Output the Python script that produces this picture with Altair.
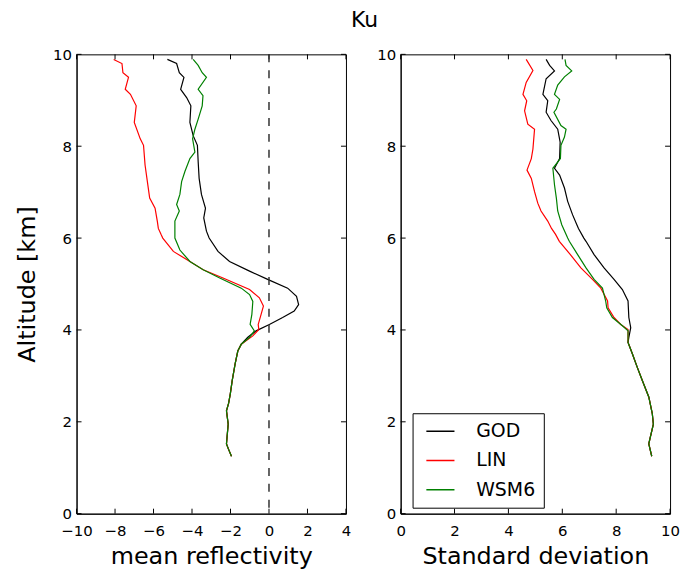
import altair as alt
import pandas as pd

# ---------------- data ----------------
models = ["GOD", "LIN", "WSM6"]
colors = ["black", "red", "green"]

# mean reflectivity profiles (altitude km, value)
god_mean_alt = [9.89, 9.80, 9.60, 9.50, 9.24, 9.06, 8.88, 8.52, 8.23, 8.02, 7.66, 7.30, 6.95, 6.65, 6.44,
                6.15, 6.00, 5.71, 5.49, 5.28, 5.10, 4.91, 4.73, 4.55, 4.41, 4.27, 4.12, 3.98, 3.84, 3.69]
god_mean_val = [-5.28, -4.80, -4.66, -4.42, -4.59, -4.28, -4.06, -4.11, -3.94, -3.72, -3.68, -3.63, -3.51, -3.30, -3.39,
                -3.25, -3.11, -2.65, -2.05, -1.01, -0.07, 0.97, 1.43, 1.54, 1.31, 0.71, 0.02, -0.67, -1.10, -1.44]

lin_mean_alt = [9.89, 9.80, 9.60, 9.50, 9.24, 9.13, 8.88, 8.52, 8.16, 8.02, 7.59, 7.23, 6.87, 6.65, 6.36,
                6.21, 6.07, 6.00, 5.71, 5.49, 5.31, 5.13, 4.88, 4.70, 4.52, 4.34, 4.12, 4.01, 3.87, 3.69]
lin_mean_val = [-8.07, -7.64, -7.59, -7.30, -7.47, -7.20, -6.90, -7.00, -6.69, -6.52, -6.44, -6.32, -6.20, -5.92, -5.80,
                -5.75, -5.60, -5.52, -4.97, -4.11, -3.42, -2.39, -1.01, -0.50, -0.29, -0.41, -0.56, -0.53, -0.84, -1.44]

wsm_mean_alt = [9.89, 9.76, 9.60, 9.50, 9.24, 9.10, 8.88, 8.59, 8.37, 8.16, 7.87, 7.73, 7.45, 7.23, 6.95,
                6.73, 6.59, 6.37, 6.07, 6.00, 5.74, 5.49, 5.31, 5.13, 4.91, 4.77, 4.62, 4.34, 4.12, 3.98,
                3.84, 3.69]
wsm_mean_val = [-3.94, -3.68, -3.47, -3.25, -3.68, -3.43, -3.47, -3.68, -3.85, -3.97, -3.85, -4.11, -4.37, -4.54, -4.63,
                -4.80, -4.66, -4.89, -4.89, -4.89, -4.63, -4.11, -3.42, -2.56, -1.44, -1.01, -0.84, -0.89, -0.98, -0.76,
                -1.01, -1.44]

# common lower part of the mean profiles
tail_mean_alt = [3.54, 3.26, 2.90, 2.61, 2.40, 2.24, 1.95, 1.52, 1.40, 1.25]
tail_mean_val = [-1.62, -1.76, -1.91, -2.01, -2.10, -2.21, -2.12, -2.21, -2.10, -1.95]

# standard deviation profiles
god_std_alt = [9.89, 9.76, 9.64, 9.47, 9.13, 8.99, 8.74, 8.56, 8.37, 8.09, 7.73, 7.52, 7.37, 7.09, 6.80,
               6.51, 6.29, 6.21, 6.00, 5.93, 5.64, 5.35, 5.10, 4.88, 4.63, 4.27, 4.05, 3.84]
god_std_val = [5.40, 5.53, 5.71, 5.40, 5.28, 5.46, 5.40, 5.58, 5.83, 5.92, 5.90, 5.71, 5.90, 6.08, 6.20,
               6.38, 6.54, 6.60, 6.80, 6.88, 7.18, 7.55, 7.92, 8.23, 8.44, 8.47, 8.54, 8.47]

lin_std_alt = [9.89, 9.65, 9.39, 9.13, 8.99, 8.77, 8.48, 8.37, 7.94, 7.73, 7.48, 7.30, 7.01, 6.76, 6.59,
               6.37, 6.21, 6.08, 5.93, 5.64, 5.35, 5.10, 4.91, 4.63, 4.48, 4.27, 4.12, 4.01]
lin_std_val = [4.66, 4.91, 4.66, 4.54, 4.68, 4.60, 4.72, 4.97, 4.91, 4.85, 4.69, 4.85, 4.97, 5.09, 5.21,
               5.46, 5.60, 5.75, 5.89, 6.30, 6.69, 7.12, 7.43, 7.68, 7.70, 7.92, 8.17, 8.44]

wsm_std_alt = [9.89, 9.76, 9.64, 9.51, 9.33, 9.13, 9.02, 8.81, 8.74, 8.45, 8.37, 8.20, 8.02, 7.73, 7.52,
               7.16, 6.87, 6.59, 6.29, 6.00, 5.93, 5.64, 5.35, 5.10, 4.91, 4.63, 4.48, 4.27, 4.09, 3.98]
wsm_std_val = [6.10, 6.14, 6.35, 6.08, 5.83, 5.71, 5.90, 5.78, 5.69, 5.95, 6.14, 6.08, 5.95, 5.93, 5.65,
               5.71, 5.78, 5.83, 5.98, 6.20, 6.26, 6.57, 6.88, 7.18, 7.49, 7.61, 7.65, 7.86, 8.23, 8.44]

# common lower part of the std profiles
tail_std_alt = [3.73, 3.48, 3.19, 2.90, 2.54, 2.18, 1.95, 1.52, 1.25]
tail_std_val = [8.44, 8.60, 8.78, 8.97, 9.21, 9.34, 9.38, 9.21, 9.32]

mean_x_ticks = [-10, -8, -6, -4, -2, 0, 2, 4]
std_x_ticks = [0, 2, 4, 6, 8, 10]
alt_ticks = [0, 2, 4, 6, 8, 10]

# ---------------- tables ----------------
def build(series):
    rows = []
    for name, a, v in series:
        for i, (aa, vv) in enumerate(zip(a, v)):
            rows.append({"model": name, "alt": aa, "value": vv, "idx": i})
    return pd.DataFrame(rows)

mean_df = build([
    ("GOD", god_mean_alt + tail_mean_alt, god_mean_val + tail_mean_val),
    ("LIN", lin_mean_alt + tail_mean_alt, lin_mean_val + tail_mean_val),
    ("WSM6", wsm_mean_alt + tail_mean_alt, wsm_mean_val + tail_mean_val),
])
std_df = build([
    ("GOD", god_std_alt + tail_std_alt, god_std_val + tail_std_val),
    ("LIN", lin_std_alt + tail_std_alt, lin_std_val + tail_std_val),
    ("WSM6", wsm_std_alt + tail_std_alt, wsm_std_val + tail_std_val),
])

W, H = 271, 462
TL = 5  # inner tick length
FONT = "DejaVu Sans"


def panel(df, xdomain, xticks, xtitle, ytitle, legend, extra=()):
    xs = alt.Scale(domain=xdomain, nice=False, zero=False)
    ys = alt.Scale(domain=[0, 10], nice=False, zero=False)
    xax = alt.Axis(values=xticks, title=xtitle, format="d")
    yax = alt.Axis(values=alt_ticks, title=ytitle, format="d")
    X = lambda: alt.X("value:Q", scale=xs, axis=xax)
    Y = lambda: alt.Y("alt:Q", scale=ys, axis=yax)
    lines = alt.Chart(df).mark_line(strokeWidth=1.2).encode(
        x=X(), y=Y(),
        color=alt.Color("model:N", scale=alt.Scale(domain=models, range=colors),
                        legend=legend),
        order=alt.Order("idx:Q"),
    )
    xt = pd.DataFrame({"value": xticks})
    yt = pd.DataFrame({"alt": alt_ticks})
    rule = dict(color="black", strokeWidth=1)
    tick_bottom = alt.Chart(xt).mark_rule(**rule).encode(x=X(), y=alt.value(H), y2=alt.value(H - TL))
    tick_top = alt.Chart(xt).mark_rule(**rule).encode(x=X(), y=alt.value(0), y2=alt.value(TL))
    tick_left = alt.Chart(yt).mark_rule(**rule).encode(y=Y(), x=alt.value(0), x2=alt.value(TL))
    tick_right = alt.Chart(yt).mark_rule(**rule).encode(y=Y(), x=alt.value(W), x2=alt.value(W - TL))
    layers = [lines, tick_bottom, tick_top, tick_left, tick_right]
    for e in extra:
        layers.append(alt.Chart(pd.DataFrame({"value": e})).mark_rule(
            color="#333333", strokeWidth=1.5, strokeDash=[8, 8]).encode(x=X()))
    return alt.layer(*layers).properties(width=W, height=H)


left = panel(mean_df, [-10, 4], mean_x_ticks, "mean reflectivity", "Altitude [km]", None, extra=[[0]])

legend = alt.Legend(title=None, orient="none", legendX=12, legendY=361,
                    symbolType="stroke", symbolSize=800, symbolStrokeWidth=1.5,
                    clipHeight=20, rowPadding=9.5, labelFontSize=19, labelOffset=21,
                    symbolOffset=5, padding=8, strokeColor="black", fillColor="white",
                    cornerRadius=0, labelColor="black", labelFont=FONT)
right = panel(std_df, [0, 10], std_x_ticks, "Standard deviation", "", legend)

chart = alt.hconcat(left, right, spacing=55, bounds="flush").resolve_legend(
    color="independent"
).properties(
    title=alt.TitleParams("Ku", fontSize=22, fontWeight="normal", font=FONT, color="black",
                          anchor="start", frame="group", offset=15, dx=276),
    padding={"left": 14, "top": 7, "right": 0, "bottom": 0},
).configure(font=FONT).configure_view(
    stroke="black", strokeWidth=1
).configure_axis(
    grid=False, ticks=False, tickSize=0, domainColor="black", domainWidth=1,
    labelFontSize=15, labelColor="black", labelFont=FONT, labelPadding=5,
    labelFlush=False, labelOverlap=False,
    titleFontSize=24, titleFontWeight="normal", titleColor="black", titleFont=FONT,
).configure_axisX(
    labelPadding=10, titlePadding=6.5
).configure_axisY(
    titlePadding=13.5
)

chart.save("out.html", embed_options={"renderer": "svg", "actions": False})
